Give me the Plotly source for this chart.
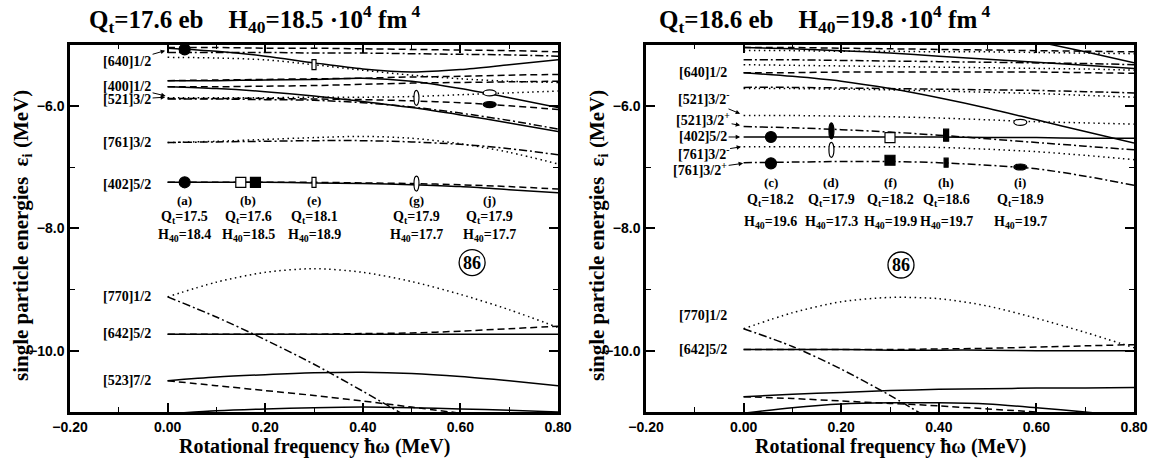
import plotly.graph_objects as go

W, H = 1163, 459

# ---------------- data ----------------
omega = [0.0, 0.1, 0.2, 0.3, 0.4, 0.5, 0.6, 0.7, 0.8]
omega_short7 = [0.0, 0.1, 0.2, 0.3, 0.4, 0.5, 0.6]
omega_short5 = [0.0, 0.1, 0.2, 0.3, 0.4]
omega_steep = [0.6, 0.7, 0.8]

# Left panel  (Qt=17.6 eb, H40=18.5)
L_640_dash = [-5.05, -5.05, -5.06, -5.06, -5.07, -5.08, -5.09, -5.10, -5.12]
L_top_dd = [-5.13, -5.13, -5.13, -5.14, -5.14, -5.15, -5.16, -5.17, -5.19]
L_640_sol = [-5.06, -5.11, -5.19, -5.30, -5.40, -5.45, -5.41, -5.33, -5.25]
L_top_dot = [-5.21, -5.22, -5.25, -5.33, -5.42, -5.50, -5.56, -5.60, -5.62]
L_b_sol = [-5.59, -5.59, -5.58, -5.57, -5.55, -5.60, -5.72, -5.87, -6.03]
L_b_dash = [-5.59, -5.58, -5.57, -5.56, -5.55, -5.53, -5.52, -5.50, -5.49]
L_400_dash = [-5.69, -5.69, -5.68, -5.67, -5.65, -5.63, -5.62, -5.61, -5.60]
L_400_sol = [-5.69, -5.72, -5.77, -5.84, -5.93, -6.03, -6.15, -6.28, -6.42]
L_521_dot = [-5.87, -5.87, -5.87, -5.86, -5.86, -5.85, -5.82, -5.79, -5.76]
L_521_dd = [-5.89, -5.89, -5.90, -5.91, -5.95, -6.02, -6.12, -6.24, -6.38]
L_521_dash = [-5.88, -5.88, -5.88, -5.89, -5.90, -5.92, -5.95, -6.00, -6.06]
L_761_dd = [-6.60, -6.59, -6.58, -6.57, -6.57, -6.59, -6.63, -6.70, -6.80]
L_761_dot = [-6.60, -6.58, -6.55, -6.52, -6.50, -6.53, -6.62, -6.76, -6.95]
L_402_sol = [-7.25, -7.25, -7.25, -7.26, -7.27, -7.29, -7.32, -7.37, -7.42]
L_402_dash = [-7.25, -7.25, -7.25, -7.25, -7.26, -7.27, -7.29, -7.32, -7.36]
L_770_dot = [-9.12, -8.88, -8.72, -8.66, -8.72, -8.87, -9.08, -9.33, -9.62]
L_770_dd = [-9.12, -9.45, -9.82, -10.22, -10.66, -11.12, -11.60]
L_642_sol = [-9.73, -9.73, -9.73, -9.73, -9.73, -9.73, -9.73, -9.73, -9.73]
L_642_dash = [-9.73, -9.73, -9.73, -9.73, -9.72, -9.71, -9.68, -9.64, -9.60]
L_523_sol = [-10.49, -10.43, -10.39, -10.36, -10.35, -10.37, -10.42, -10.49, -10.57]
L_523_dash = [-10.49, -10.57, -10.65, -10.73, -10.82, -10.92, -11.02]
L_bot_sol = [-11.03, -10.98, -10.95, -10.93, -10.92, -10.93, -10.95, -10.97, -11.00]

# Right panel (Qt=18.6 eb, H40=19.8)
R_top_dash = [-5.05, -5.05, -5.06, -5.07, -5.08, -5.09, -5.10, -5.11, -5.12]
R_top_sol = [-5.05, -5.07, -5.10, -5.14, -5.19, -5.24, -5.29, -5.34, -5.39]
R_top_dot = [-5.10, -5.10, -5.11, -5.11, -5.12, -5.12, -5.13, -5.14, -5.15]
R_steep_sol = [-4.95, -5.12, -5.30]
R_dd1 = [-5.25, -5.25, -5.26, -5.27, -5.28, -5.29, -5.30, -5.31, -5.33]
R_dot2 = [-5.33, -5.34, -5.35, -5.36, -5.37, -5.38, -5.39, -5.40, -5.42]
R_640_dash = [-5.46, -5.46, -5.45, -5.45, -5.45, -5.45, -5.45, -5.46, -5.47]
R_640_sol = [-5.46, -5.52, -5.60, -5.72, -5.87, -6.04, -6.23, -6.42, -6.61]
R_dd2 = [-5.70, -5.70, -5.71, -5.72, -5.73, -5.74, -5.75, -5.77, -5.79]
R_dot3 = [-5.72, -5.72, -5.73, -5.74, -5.76, -5.78, -5.80, -5.83, -5.86]
R_521m_dot = [-6.16, -6.16, -6.17, -6.18, -6.20, -6.23, -6.26, -6.28, -6.30]
R_521p_dd = [-6.34, -6.36, -6.39, -6.43, -6.48, -6.54, -6.60, -6.66, -6.72]
R_402_sol = [-6.51, -6.51, -6.51, -6.51, -6.51, -6.52, -6.52, -6.53, -6.53]
R_761m_dot = [-6.67, -6.67, -6.67, -6.67, -6.68, -6.71, -6.75, -6.81, -6.88]
R_761p_dd = [-6.93, -6.92, -6.91, -6.91, -6.93, -6.97, -7.03, -7.15, -7.30]
R_770_dot = [-9.64, -9.38, -9.20, -9.13, -9.15, -9.27, -9.47, -9.70, -9.95]
R_770_dd = [-9.64, -9.93, -10.30, -10.73, -11.20]
R_642_sol = [-9.98, -9.98, -9.98, -9.99, -9.99, -9.99, -10.00, -10.00, -10.00]
R_642_dash = [-9.98, -9.98, -9.98, -9.98, -9.97, -9.96, -9.94, -9.92, -9.90]
R_low_sol = [-10.75, -10.71, -10.68, -10.65, -10.63, -10.62, -10.61, -10.61, -10.60]
R_low_dash = [-10.75, -10.78, -10.82, -10.86, -10.90, -10.95, -11.00]
R_bot_sol = [-11.02, -10.93, -10.87, -10.85, -10.85, -10.87, -10.93, -11.00, -11.08]

# occupation markers
L_mk_w = [0.035, 0.035, 0.15, 0.18, 0.30, 0.30, 0.51, 0.51, 0.66, 0.66]
L_mk_e = [-5.08, -7.25, -7.25, -7.25, -5.33, -7.25, -5.87, -7.27, -5.79, -5.98]
L_mk_kind = ["dot", "dot", "sq_open", "sq_fill", "bar_open", "bar_open",
             "vell_open", "vell_open", "hell_open", "hell_fill"]
R_mk_w = [0.056, 0.056, 0.18, 0.18, 0.30, 0.30, 0.415, 0.415, 0.567, 0.567]
R_mk_e = [-6.51, -6.94, -6.41, -6.72, -6.52, -6.89, -6.48, -6.93, -6.27, -7.00]
R_mk_kind = ["dot", "dot", "vell_fill", "vell_open", "sq_open", "sq_fill",
             "bar_fill", "bar_fill_s", "hell_open", "hell_fill"]

# configuration labels
L_cfg_tag = ["(a)", "(b)", "(e)", "(g)", "(j)"]
L_cfg_w = [0.035, 0.165, 0.30, 0.51, 0.66]
L_cfg_qt = ["17.5", "17.6", "18.1", "17.9", "17.9"]
L_cfg_h40 = ["18.4", "18.5", "18.9", "17.7", "17.7"]
R_cfg_tag = ["(c)", "(d)", "(f)", "(h)", "(i)"]
R_cfg_w = [0.056, 0.18, 0.30, 0.415, 0.567]
R_cfg_qt = ["18.2", "17.9", "18.2", "18.6", "18.9"]
R_cfg_h40 = ["19.6", "17.3", "19.9", "19.7", "19.7"]

NB = "\u00a0"
titles = ["Q<sub>t</sub>=17.6 eb" + NB * 3 + " H<sub>40</sub>=18.5 ·10<sup>4</sup> fm<sup>" + NB + "4</sup>",
          "Q<sub>t</sub>=18.6 eb" + NB * 3 + " H<sub>40</sub>=19.8 ·10<sup>4</sup> fm<sup>" + NB + "4</sup>"]
xtitle = "Rotational frequency ħω (MeV)"
ytitle = "single particle energies" + NB * 2 + "ε<sub>i</sub> (MeV)"

# ---------------- styles ----------------
DASH = {"sol": "solid", "dash": "7px,4px", "dd": "8px,3px,2px,3px", "dot": "1.5px,3.5px"}
SERIF = "Liberation Serif"
SANS = "Liberation Sans"

left_curves = [
    (omega, L_640_dash, "dash"), (omega, L_top_dd, "dd"), (omega, L_640_sol, "sol"),
    (omega, L_top_dot, "dot"), (omega, L_b_sol, "sol"), (omega, L_b_dash, "dash"),
    (omega, L_400_dash, "dash"), (omega, L_400_sol, "sol"), (omega, L_521_dot, "dot"),
    (omega, L_521_dd, "dd"), (omega, L_521_dash, "dash"), (omega, L_761_dd, "dd"),
    (omega, L_761_dot, "dot"), (omega, L_402_sol, "sol"), (omega, L_402_dash, "dash"),
    (omega, L_770_dot, "dot"), (omega_short7, L_770_dd, "dd"), (omega, L_642_sol, "sol"),
    (omega, L_642_dash, "dash"), (omega, L_523_sol, "sol"), (omega_short7, L_523_dash, "dash"),
    (omega, L_bot_sol, "sol"),
]
right_curves = [
    (omega, R_top_dash, "dash"), (omega, R_top_sol, "sol"), (omega, R_top_dot, "dot"),
    (omega_steep, R_steep_sol, "sol"), (omega, R_dd1, "dd"), (omega, R_dot2, "dot"),
    (omega, R_640_dash, "dash"), (omega, R_640_sol, "sol"), (omega, R_dd2, "dd"),
    (omega, R_dot3, "dot"), (omega, R_521m_dot, "dot"), (omega, R_521p_dd, "dd"),
    (omega, R_402_sol, "sol"), (omega, R_761m_dot, "dot"), (omega, R_761p_dd, "dd"),
    (omega, R_770_dot, "dot"), (omega_short5, R_770_dd, "dd"), (omega, R_642_sol, "sol"),
    (omega, R_642_dash, "dash"), (omega, R_low_sol, "sol"), (omega_short7, R_low_dash, "dash"),
    (omega, R_bot_sol, "sol"),
]

fig = go.Figure()
for curves, xa, ya in [(left_curves, "x", "y"), (right_curves, "x2", "y2")]:
    for xs, ys, st in curves:
        fig.add_trace(go.Scatter(
            x=xs, y=ys, xaxis=xa, yaxis=ya, mode="lines",
            line=dict(color="black", width=1.5, dash=DASH[st], shape="spline", smoothing=0.8),
            showlegend=False, hoverinfo="skip"))

MK = {  # type, width px, height px, fill
    "dot": ("circle", 11, 11, "black"),
    "sq_open": ("rect", 10, 10, "white"),
    "sq_fill": ("rect", 10, 10, "black"),
    "bar_open": ("rect", 4, 10, "white"),
    "bar_fill": ("rect", 5, 12, "black"),
    "bar_fill_s": ("rect", 4, 9, "black"),
    "vell_open": ("circle", 5, 15, "white"),
    "vell_fill": ("circle", 5, 16, "black"),
    "hell_open": ("circle", 13, 6, "white"),
    "hell_fill": ("circle", 13, 6, "black"),
}
shapes = []
for ws, es, ks, xa, ya in [(L_mk_w, L_mk_e, L_mk_kind, "x", "y"), (R_mk_w, R_mk_e, R_mk_kind, "x2", "y2")]:
    for w, e, k in zip(ws, es, ks):
        typ, pw, ph, fc = MK[k]
        shapes.append(dict(type=typ, xref=xa, yref=ya, xsizemode="pixel", ysizemode="pixel",
                           xanchor=w, yanchor=e, x0=-pw / 2, x1=pw / 2, y0=-ph / 2, y1=ph / 2,
                           fillcolor=fc, line=dict(color="black", width=1.2), layer="above"))

annotations = []

def ann(text, x, y, xa, ya, size=13, **kw):
    d = dict(text=text, x=x, y=y, xref=xa, yref=ya, showarrow=False,
             xanchor="center", yanchor="middle",
             font=dict(family=SERIF, size=size, color="black", weight="bold"))
    d.update(kw)
    annotations.append(d)

# config labels
for tags, ws, qts, hs, xa, ya, ey in [
    (L_cfg_tag, L_cfg_w, L_cfg_qt, L_cfg_h40, "x", "y", (-7.55, -7.83, -8.12)),
    (R_cfg_tag, R_cfg_w, R_cfg_qt, R_cfg_h40, "x2", "y2", (-7.26, -7.54, -7.91)),
]:
    for t, w, q, h in zip(tags, ws, qts, hs):
        ann(t, w, ey[0], xa, ya, size=13)
        ann("Q<sub>t</sub>=" + q, w, ey[1], xa, ya, size=14)
        ann("H<sub>40</sub>=" + h, w, ey[2], xa, ya, size=14)

# "86" circled
for w, e, xa, ya in [(0.624, -8.56, "x", "y"), (0.3225, -8.60, "x2", "y2")]:
    ann("86", w, e, xa, ya, size=18)
    shapes.append(dict(type="circle", xref=xa, yref=ya, xsizemode="pixel", ysizemode="pixel",
                       xanchor=w, yanchor=e, x0=-13, x1=13, y0=-13, y1=13,
                       line=dict(color="black", width=1.3), fillcolor="rgba(0,0,0,0)"))

# level labels: text, center omega, center E, arrow tip (omega,E) or None
L_labels = [
    ("[640]1/2", -0.083, -5.28, (-0.005, -5.10)),
    ("[400]1/2", -0.083, -5.69, (-0.004, -5.84)),
    ("[521]3/2", -0.083, -5.90, (-0.005, -5.86)),
    ("[761]3/2", -0.083, -6.60, None),
    ("[402]5/2", -0.083, -7.29, None),
    ("[770]1/2", -0.083, -9.12, None),
    ("[642]5/2", -0.083, -9.72, None),
    ("[523]7/2", -0.083, -10.49, None),
]
R_labels = [
    ("[640]1/2", -0.083, -5.46, None),
    ("[521]3/2<sup>-</sup>", -0.083, -5.88, (-0.007, -6.13)),
    ("[521]3/2<sup>+</sup>", -0.083, -6.21, (-0.007, -6.32)),
    ("[402]5/2", -0.083, -6.51, (-0.007, -6.51)),
    ("[761]3/2<sup>-</sup>", -0.083, -6.77, (-0.005, -6.67)),
    ("[761]3/2<sup>+</sup>", -0.089, -7.04, (-0.001, -6.94)),
    ("[770]1/2", -0.083, -9.42, None),
    ("[642]5/2", -0.083, -9.98, None),
]
for labs, xa, ya in [(L_labels, "x", "y"), (R_labels, "x2", "y2")]:
    for text, cx, cy, tip in labs:
        if tip is None:
            ann(text, cx, cy, xa, ya, size=14)
        else:
            tx, ty = tip
            annotations.append(dict(
                text=text, x=tx, y=ty, xref=xa, yref=ya, axref=xa, ayref=ya, ax=cx, ay=cy,
                showarrow=True, arrowhead=2, arrowsize=0.9, arrowwidth=1, arrowcolor="black",
                standoff=0, startstandoff=0,
                font=dict(family=SERIF, size=14, color="black", weight="bold")))

# titles and axis titles (paper coords from pixels)
def px(x):
    return x / W

def py(y):
    return 1 - y / H

for t, x0 in zip(titles, [87, 657]):
    annotations.append(dict(text=t, x=px(x0), y=py(19), xref="paper", yref="paper", xanchor="left",
                            yanchor="middle", showarrow=False,
                            font=dict(family=SERIF, size=25, color="black", weight="bold")))
for xc in [314, 890]:
    annotations.append(dict(text=xtitle, x=px(xc), y=py(446), xref="paper",
                            yref="paper", showarrow=False, xanchor="center", yanchor="middle",
                            font=dict(family=SERIF, size=20, color="black", weight="bold")))
for xc in [22, 598]:
    annotations.append(dict(text=ytitle, x=px(xc), y=py(236), xref="paper", yref="paper",
                            showarrow=False, textangle=-90, xanchor="center", yanchor="middle",
                            font=dict(family=SERIF, size=21, color="black", weight="bold")))

xdom = [[70 / W, 558 / W], [646 / W, 1134 / W]]
ydom = [1 - 412 / H, 1 - 44.5 / H]

def xaxis(dom, anchor):
    return dict(domain=dom, anchor=anchor, range=[-0.2, 0.8], tick0=-0.2, dtick=0.2, tickformat=".2f",
                ticks="inside", ticklen=9, tickwidth=1.5, tickcolor="black", showline=True,
                linewidth=2.5, linecolor="black", mirror="ticks", showgrid=False, zeroline=False,
                automargin=False,
                tickfont=dict(family=SANS, size=14, color="black", weight="bold"),
                minor=dict(dtick=0.1, ticks="inside", ticklen=5, tickwidth=1.2, tickcolor="black",
                           showgrid=False))

def yaxis(anchor):
    return dict(domain=ydom, anchor=anchor, range=[-11, -5], tick0=-10, dtick=2, tickformat=".1f",
                ticks="inside", ticklen=9, tickwidth=1.5, tickcolor="black", showline=True,
                linewidth=2.5, linecolor="black", mirror="ticks", showgrid=False, zeroline=False,
                automargin=False,
                tickfont=dict(family=SANS, size=14, color="black", weight="bold"),
                minor=dict(dtick=1, ticks="inside", ticklen=5, tickwidth=1.2, tickcolor="black",
                           showgrid=False))

fig.update_layout(
    width=W, height=H, margin=dict(l=0, r=0, t=0, b=0, autoexpand=False),
    paper_bgcolor="white", plot_bgcolor="white", showlegend=False,
    xaxis=xaxis(xdom[0], "y"), yaxis=yaxis("x"),
    xaxis2=xaxis(xdom[1], "y2"), yaxis2=yaxis("x2"),
    shapes=shapes, annotations=annotations,
)
fig.write_html("out.html")
